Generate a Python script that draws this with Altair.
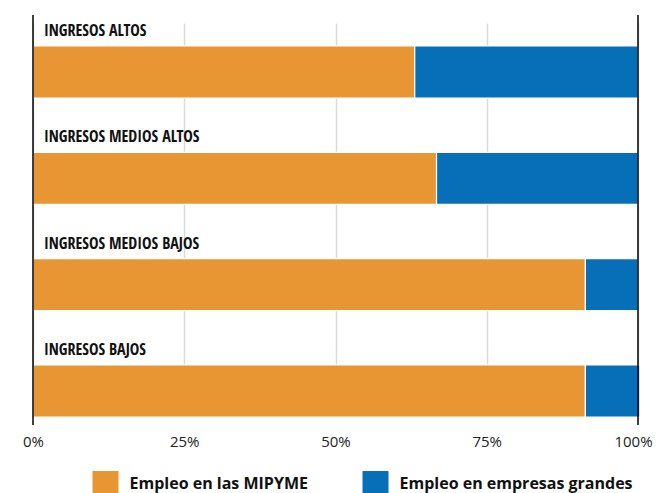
import altair as alt
import pandas as pd

categorias = ["INGRESOS ALTOS", "INGRESOS MEDIOS ALTOS", "INGRESOS MEDIOS BAJOS", "INGRESOS BAJOS"]
mipyme = [63.1, 66.7, 91.3, 91.3]
grandes = [36.9, 33.3, 8.7, 9.0]
series = ["Empleo en las MIPYME", "Empleo en empresas grandes"]
colores = ["#E89533", "#076FB7"]
ticks = [0, 0.25, 0.5, 0.75, 1.0]
bordes = [0, 1]

rows = []
for c, a, b in zip(categorias, mipyme, grandes):
    rows.append({"cat": c, "serie": series[0], "v": a / 100, "orden": 0})
    rows.append({"cat": c, "serie": series[1], "v": b / 100, "orden": 1})
df = pd.DataFrame(rows)
labels_df = pd.DataFrame({"cat": categorias})
edges_df = pd.DataFrame({"x": bordes})

yscale = alt.Scale(domain=categorias, range=[31, 402], paddingInner=0.51, paddingOuter=0)
xscale = alt.Scale(domain=[0, 1], nice=False)

bars = alt.Chart(df).mark_bar(stroke="white", strokeWidth=1.2).encode(
    x=alt.X("v:Q", stack="zero", scale=xscale,
            axis=alt.Axis(format="%", values=ticks, grid=True, gridColor="#d9d9d9",
                          gridWidth=1.5, domain=False, ticks=False, labelFont="Open Sans",
                          labelFontSize=15, labelColor="#222", labelPadding=9,
                          labelFlush=False, labelOverlap=False, labelBound=False,
                          labelOffset={"condition": {"test": "datum.value == 1", "value": -5}, "value": 0},
                          title=None)),
    y=alt.Y("cat:N", scale=yscale, axis=None),
    color=alt.Color("serie:N", scale=alt.Scale(domain=series, range=colores),
                    legend=alt.Legend(orient="none", legendX=59.5, legendY=456,
                                      direction="horizontal", title=None,
                                      symbolType="square", symbolSize=676,
                                      symbolStrokeWidth=0, labelFont="Open Sans",
                                      labelFontWeight="bold", labelFontSize=16,
                                      labelColor="#111", labelOffset=11, labelLimit=0,
                                      columnPadding=54, padding=0)),
    order=alt.Order("orden:Q"),
)

labels = alt.Chart(labels_df).mark_text(
    align="left", baseline="alphabetic", dx=11, dy=-10,
    font="Open Sans Condensed, DejaVu Sans Condensed, Roboto Condensed, Noto Sans Condensed, Liberation Sans Narrow, Arial Narrow, Inter",
    fontWeight="bold", fontSize=16, color="#111"
).encode(
    x=alt.value(0),
    y=alt.Y("cat:N", scale=yscale, axis=None, bandPosition=0),
    text="cat:N",
)

rules = alt.Chart(edges_df).mark_rule(color="black", strokeWidth=1.5).encode(
    x=alt.X("x:Q", scale=xscale, axis=alt.Axis(title=None, values=ticks, format="%"))
)

chart = alt.layer(bars, labels, rules).properties(
    width=605, height=410,
    autosize=alt.AutoSizeParams(type="none"),
    padding={"left": 25, "top": 7, "right": 15, "bottom": 68},
).configure_view(stroke=None)

chart.save("out.html", embed_options={"renderer": "svg", "actions": False})
